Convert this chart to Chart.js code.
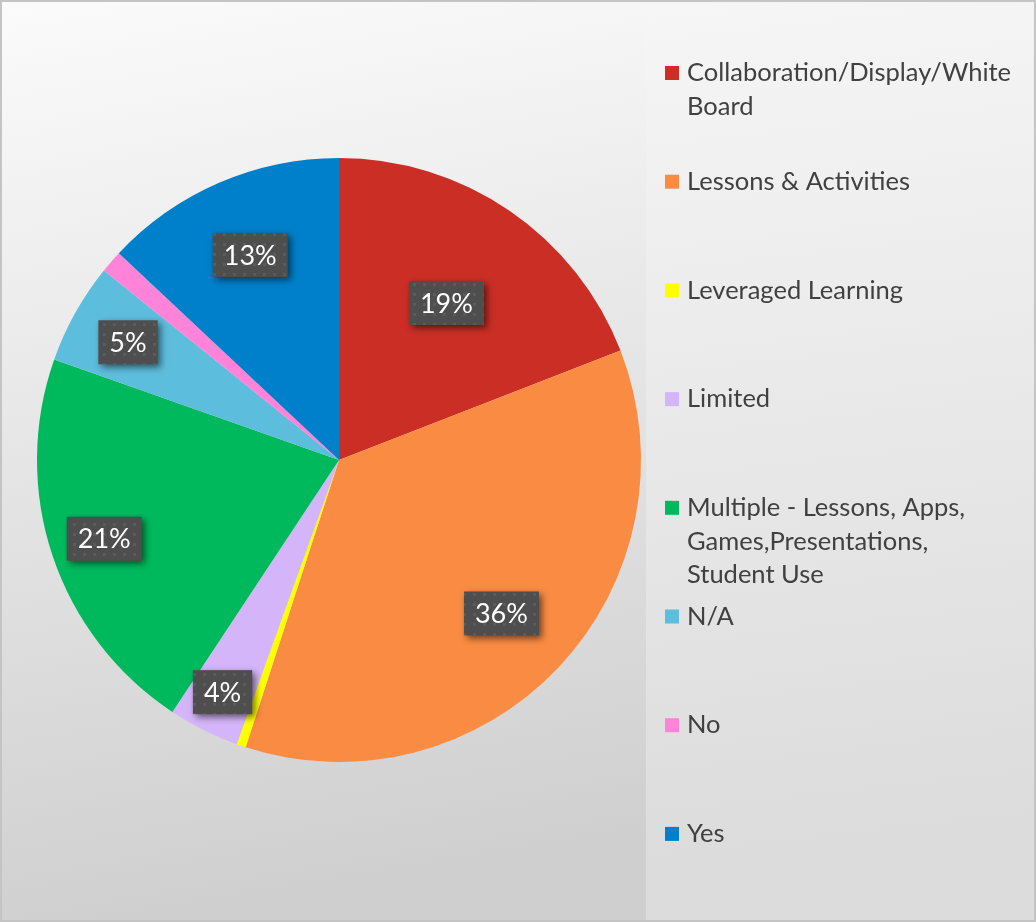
<!DOCTYPE html>
<html>
<head>
<meta charset="utf-8">
<script src="https://cdn.jsdelivr.net/npm/chart.js@4/dist/chart.umd.min.js"></script>
<style>
  html, body { margin: 0; padding: 0; background: #fff; }
  #wrap { width: 1036px; height: 922px; position: relative; }
</style>
</head>
<body>
<div id="wrap"><canvas id="myChart"></canvas></div>
<script>
// categories (legend text, wrapped as in the original)
const categories = [
    ['Collaboration/Display/White', 'Board'],
    ['Lessons & Activities'],
    ['Leveraged Learning'],
    ['Limited'],
    ['Multiple - Lessons, Apps,', 'Games,Presentations,', 'Student Use'],
    ['N/A'],
    ['No'],
    ['Yes']
];
// share of answers, in percent
const shares = [19.1, 35.9, 0.5, 3.8, 21.1, 5.4, 1.2, 13.0];
const sliceColors = ['#CA2E25', '#FA8B42', '#FFFF00', '#D5B5FA', '#00B95D', '#5DBDDC', '#FF83D8', '#007FCA'];
// how far out (fraction of radius) each data label sits, 0 = no label
const labelRadius = [0.63, 0.74, 0, 0.86, 0.82, 0.80, 0, 0.74];

const FONT = 'Lato, "Open Sans", sans-serif';

// background + legend panel
const backgroundPlugin = {
    id: 'bg',
    beforeDraw(chart) {
        const ctx = chart.ctx;
        const w = chart.width, h = chart.height;
        ctx.save();
        let g = ctx.createLinearGradient(0, 0, w * 0.15, h);
        g.addColorStop(0, '#fbfbfb');
        g.addColorStop(1, '#cfcfcf');
        ctx.fillStyle = g;
        ctx.fillRect(0, 0, w, h);
        // legend panel
        g = ctx.createLinearGradient(0, 0, w * 0.1, h);
        g.addColorStop(0, '#f8f8f8');
        g.addColorStop(1, '#dcdcdc');
        ctx.fillStyle = g;
        ctx.fillRect(646, 2, w - 648, h - 4);
        ctx.strokeStyle = '#c4c4c4';
        ctx.lineWidth = 2;
        ctx.strokeRect(1, 1, w - 2, h - 2);
        ctx.restore();
    }
};

// dotted dark label boxes with shadow
function makeDotPattern(ctx) {
    const c = document.createElement('canvas');
    c.width = 10; c.height = 10;
    const p = c.getContext('2d');
    p.fillStyle = '#4e4e4e';
    p.fillRect(0, 0, 10, 10);
    p.fillStyle = '#5b5b5b';
    p.fillRect(3, 3, 3, 3);
    return ctx.createPattern(c, 'repeat');
}

const labelPlugin = {
    id: 'sliceLabels',
    afterDatasetsDraw(chart) {
        const ctx = chart.ctx;
        const meta = chart.getDatasetMeta(0);
        const data = chart.data.datasets[0].data;
        const total = data.reduce((a, b) => a + b, 0);
        const pattern = makeDotPattern(ctx);
        ctx.save();
        ctx.font = '27px ' + FONT;
        ctx.textAlign = 'center';
        ctx.textBaseline = 'middle';
        meta.data.forEach((arc, i) => {
            if (!labelRadius[i]) return;
            const p = arc.getProps(['x', 'y', 'startAngle', 'endAngle', 'outerRadius'], true);
            const mid = (p.startAngle + p.endAngle) / 2;
            const r = p.outerRadius * labelRadius[i];
            const x = p.x + Math.cos(mid) * r;
            const y = p.y + Math.sin(mid) * r;
            const text = Math.round(data[i] / total * 100) + '%';
            const bw = ctx.measureText(text).width + 22;
            const bh = 44;
            ctx.save();
            ctx.shadowColor = 'rgba(0,0,0,0.55)';
            ctx.shadowBlur = 7;
            ctx.shadowOffsetX = 3;
            ctx.shadowOffsetY = 3;
            ctx.fillStyle = pattern;
            ctx.fillRect(x - bw / 2, y - bh / 2, bw, bh);
            ctx.restore();
            ctx.fillStyle = '#ffffff';
            ctx.fillText(text, x, y + 1);
        });
        ctx.restore();
    }
};

// legend on the right, even spacing like the original
const legendPlugin = {
    id: 'sideLegend',
    afterDraw(chart) {
        const ctx = chart.ctx;
        const labels = chart.data.labels;
        const colors = chart.data.datasets[0].backgroundColor;
        const top = 73, step = 108.7, lineH = 33.5;
        ctx.save();
        ctx.font = '25.5px ' + FONT;
        ctx.textBaseline = 'middle';
        ctx.textAlign = 'left';
        labels.forEach((lines, i) => {
            const y = top + i * step;
            ctx.fillStyle = colors[i];
            ctx.fillRect(665, y - 7, 14, 14);
            ctx.fillStyle = '#404040';
            lines.forEach((line, j) => {
                ctx.fillText(line, 687, y + j * lineH);
            });
        });
        ctx.restore();
    }
};

const chartEl = document.getElementById('myChart');
new Chart(chartEl, {
    type: 'pie',
    data: {
        labels: categories,
        datasets: [{
            data: shares,
            backgroundColor: sliceColors,
            borderWidth: 0
        }]
    },
    options: {
        responsive: true,
        maintainAspectRatio: false,
        animation: false,
        layout: {
            padding: { left: 37, right: 395, top: 158, bottom: 160 }
        },
        plugins: {
            legend: { display: false },
            tooltip: { enabled: false }
        }
    },
    plugins: [backgroundPlugin, labelPlugin, legendPlugin]
});
</script>
</body>
</html>
